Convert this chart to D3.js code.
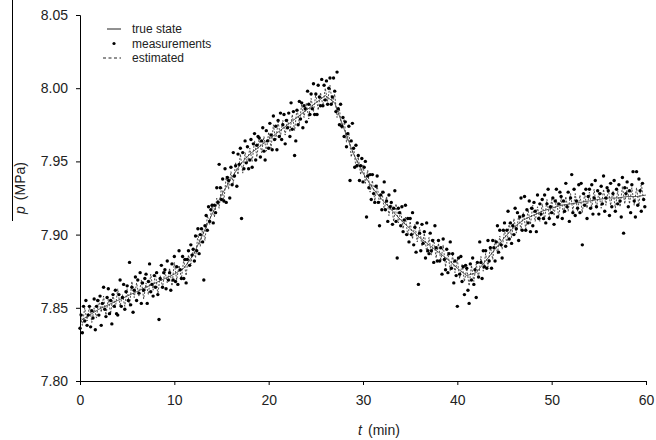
<!DOCTYPE html>
<html>
<head>
<meta charset="utf-8">
<script src="https://cdn.jsdelivr.net/npm/d3@7"></script>
<style>
  body { margin: 0; background: white; }
  svg { display: block; font-family: Arial, "Liberation Sans", sans-serif; }
  .tick text { fill: #222; font-size: 14px; }
  .legend-text { font-size: 12px; fill: #222; }
</style>
</head>
<body>
<svg width="656" height="440"></svg>
<script>
// true state, one value per minute (t = 0..60)
const trueTimes = d3.range(0, 61)
const trueState = [
  7.841, 7.845, 7.849, 7.852, 7.855, 7.858, 7.861, 7.864, 7.867, 7.870,
  7.873, 7.877, 7.886, 7.900, 7.914, 7.927, 7.938, 7.948, 7.955, 7.960,
  7.965, 7.970, 7.975, 7.980, 7.985, 7.990, 7.995, 7.990, 7.972, 7.955,
  7.942, 7.932, 7.924, 7.917, 7.910, 7.904, 7.898, 7.893, 7.888, 7.883,
  7.877, 7.872, 7.874, 7.882, 7.890, 7.898, 7.905, 7.910, 7.913, 7.916,
  7.918, 7.920, 7.921, 7.922, 7.923, 7.924, 7.925, 7.925, 7.926, 7.926,
  7.927
]

// measurements, sampled every 0.125 min (8 per row = 1 minute)
const measStep = 0.125
const measurements = [
  7.836, 7.845, 7.833, 7.851, 7.841, 7.855, 7.838, 7.845,
  7.851, 7.837, 7.848, 7.843, 7.856, 7.835, 7.851, 7.855,
  7.845, 7.858, 7.838, 7.853, 7.864, 7.849, 7.844, 7.857,
  7.863, 7.846, 7.855, 7.839, 7.859, 7.851, 7.862, 7.846,
  7.845, 7.859, 7.869, 7.851, 7.857, 7.866, 7.849, 7.861,
  7.865, 7.855, 7.881, 7.852, 7.864, 7.847, 7.862, 7.871,
  7.855, 7.869, 7.860, 7.874, 7.853, 7.867, 7.862, 7.870,
  7.873, 7.853, 7.868, 7.880, 7.861, 7.866, 7.858, 7.872,
  7.864, 7.874, 7.859, 7.842, 7.870, 7.879, 7.864, 7.874,
  7.876, 7.863, 7.882, 7.869, 7.874, 7.862, 7.880, 7.869,
  7.885, 7.868, 7.878, 7.866, 7.889, 7.876, 7.870, 7.885,
  7.870, 7.883, 7.867, 7.883, 7.889, 7.879, 7.893, 7.886,
  7.890, 7.882, 7.899, 7.889, 7.904, 7.887, 7.900, 7.904,
  7.895, 7.869, 7.906, 7.913, 7.903, 7.919, 7.909, 7.917,
  7.920, 7.908, 7.920, 7.915, 7.932, 7.922, 7.948, 7.932,
  7.924, 7.938, 7.923, 7.945, 7.922, 7.939, 7.937, 7.925,
  7.946, 7.934, 7.956, 7.940, 7.947, 7.933, 7.955, 7.948,
  7.959, 7.911, 7.956, 7.945, 7.964, 7.949, 7.960, 7.945,
  7.951, 7.965, 7.946, 7.962, 7.969, 7.951, 7.961, 7.967,
  7.966, 7.953, 7.964, 7.973, 7.957, 7.951, 7.971, 7.964,
  7.959, 7.976, 7.968, 7.958, 7.981, 7.965, 7.974, 7.958,
  7.978, 7.967, 7.983, 7.965, 7.975, 7.982, 7.962, 7.978,
  7.973, 7.983, 7.967, 7.990, 7.972, 7.984, 7.954, 7.964,
  7.985, 7.975, 7.991, 7.979, 7.990, 7.973, 7.988, 7.986,
  7.977, 7.998, 7.989, 7.982, 7.996, 7.986, 8.003, 7.982,
  7.996, 7.982, 8.002, 7.994, 7.988, 8.006, 7.988, 8.002,
  7.992, 8.005, 7.989, 8.000, 8.007, 7.989, 7.994, 8.007,
  7.998, 7.984, 8.011, 7.986, 7.975, 7.989, 7.974, 7.980,
  7.967, 7.977, 7.960, 7.969, 7.974, 7.937, 7.964, 7.976,
  7.959, 7.946, 7.961, 7.947, 7.954, 7.937, 7.947, 7.952,
  7.936, 7.946, 7.950, 7.912, 7.940, 7.932, 7.941, 7.924,
  7.941, 7.928, 7.922, 7.933, 7.940, 7.922, 7.906, 7.927,
  7.917, 7.929, 7.936, 7.917, 7.923, 7.909, 7.927, 7.919,
  7.922, 7.907, 7.918, 7.930, 7.909, 7.884, 7.918, 7.915,
  7.906, 7.919, 7.902, 7.910, 7.920, 7.900, 7.911, 7.895,
  7.911, 7.900, 7.915, 7.893, 7.905, 7.888, 7.908, 7.866,
  7.901, 7.889, 7.907, 7.894, 7.902, 7.884, 7.908, 7.889,
  7.887, 7.901, 7.889, 7.896, 7.881, 7.906, 7.891, 7.882,
  7.896, 7.882, 7.891, 7.873, 7.897, 7.883, 7.876, 7.890,
  7.874, 7.887, 7.895, 7.877, 7.887, 7.867, 7.882, 7.872,
  7.851, 7.884, 7.873, 7.885, 7.868, 7.878, 7.859, 7.879,
  7.877, 7.862, 7.853, 7.880, 7.869, 7.884, 7.866, 7.876,
  7.857, 7.881, 7.871, 7.895, 7.881, 7.870, 7.889, 7.878,
  7.889, 7.877, 7.896, 7.882, 7.891, 7.877, 7.896, 7.891,
  7.882, 7.895, 7.906, 7.888, 7.903, 7.893, 7.884, 7.903,
  7.908, 7.892, 7.903, 7.916, 7.897, 7.908, 7.894, 7.906,
  7.900, 7.918, 7.904, 7.915, 7.896, 7.912, 7.925, 7.903,
  7.913, 7.926, 7.903, 7.917, 7.908, 7.923, 7.902, 7.918,
  7.906, 7.922, 7.916, 7.902, 7.927, 7.911, 7.921, 7.914,
  7.924, 7.911, 7.927, 7.908, 7.921, 7.931, 7.911, 7.919,
  7.915, 7.925, 7.907, 7.923, 7.931, 7.912, 7.921, 7.929,
  7.926, 7.911, 7.923, 7.916, 7.935, 7.919, 7.929, 7.909,
  7.925, 7.941, 7.915, 7.931, 7.913, 7.923, 7.918, 7.934,
  7.915, 7.935, 7.893, 7.928, 7.920, 7.931, 7.911, 7.926,
  7.931, 7.918, 7.934, 7.914, 7.925, 7.937, 7.919, 7.930,
  7.914, 7.928, 7.933, 7.921, 7.940, 7.916, 7.925, 7.932,
  7.930, 7.913, 7.935, 7.919, 7.928, 7.937, 7.916, 7.931,
  7.921, 7.934, 7.923, 7.912, 7.939, 7.901, 7.932, 7.928,
  7.936, 7.919, 7.930, 7.915, 7.934, 7.943, 7.923, 7.912,
  7.943, 7.920, 7.938, 7.930, 7.916, 7.935, 7.924, 7.919
]

// filter estimate, every 0.25 min (4 per row)
const estStep = 0.25
const estimated = [
  7.846, 7.838, 7.850, 7.841,  7.851, 7.840, 7.850, 7.843,
  7.856, 7.847, 7.858, 7.845,  7.856, 7.846, 7.859, 7.850,
  7.863, 7.851, 7.859, 7.851,  7.863, 7.851, 7.868, 7.857,
  7.867, 7.858, 7.869, 7.856,  7.867, 7.859, 7.873, 7.862,
  7.874, 7.859, 7.872, 7.864,  7.875, 7.867, 7.877, 7.865,
  7.881, 7.869, 7.879, 7.870,  7.883, 7.872, 7.886, 7.880,
  7.891, 7.884, 7.900, 7.892,  7.904, 7.896, 7.913, 7.907,
  7.921, 7.912, 7.925, 7.918,  7.933, 7.923, 7.940, 7.931,
  7.943, 7.935, 7.949, 7.941,  7.955, 7.942, 7.956, 7.949,
  7.959, 7.950, 7.964, 7.953,  7.966, 7.956, 7.967, 7.957,
  7.970, 7.959, 7.975, 7.964,  7.977, 7.967, 7.978, 7.968,
  7.979, 7.970, 7.982, 7.971,  7.986, 7.976, 7.989, 7.980,
  7.990, 7.979, 7.993, 7.984,  7.996, 7.985, 7.997, 7.988,
  8.000, 7.991, 8.002, 7.989,  7.996, 7.980, 7.986, 7.972,
  7.979, 7.963, 7.970, 7.953,  7.960, 7.946, 7.953, 7.941,
  7.948, 7.935, 7.944, 7.929,  7.937, 7.923, 7.934, 7.921,
  7.930, 7.917, 7.926, 7.913,  7.922, 7.909, 7.921, 7.908,
  7.916, 7.904, 7.912, 7.899,  7.909, 7.897, 7.907, 7.895,
  7.905, 7.892, 7.901, 7.888,  7.898, 7.886, 7.897, 7.884,
  7.894, 7.882, 7.893, 7.878,  7.888, 7.875, 7.886, 7.874,
  7.883, 7.870, 7.880, 7.868,  7.877, 7.865, 7.879, 7.868,
  7.880, 7.871, 7.885, 7.875,  7.887, 7.878, 7.892, 7.883,
  7.897, 7.887, 7.899, 7.890,  7.903, 7.894, 7.908, 7.898,
  7.911, 7.901, 7.913, 7.903,  7.915, 7.904, 7.917, 7.907,
  7.920, 7.909, 7.919, 7.909,  7.921, 7.910, 7.924, 7.912,
  7.924, 7.913, 7.924, 7.912,  7.925, 7.914, 7.926, 7.916,
  7.928, 7.916, 7.928, 7.916,  7.927, 7.915, 7.928, 7.918,
  7.929, 7.918, 7.931, 7.918,  7.929, 7.918, 7.931, 7.920,
  7.931, 7.920, 7.930, 7.918,  7.930, 7.919, 7.933, 7.921,
  7.933, 7.921, 7.932, 7.920,  7.932, 7.920, 7.935, 7.923
]

const xTicks = [0, 10, 20, 30, 40, 50, 60]
const yTicks = [7.80, 7.85, 7.90, 7.95, 8.00, 8.05]
const legendItems = ['true state', 'measurements', 'estimated']

const svg = d3.select('svg')
const width = +svg.attr('width')
const height = +svg.attr('height')
const margin = {top: 15, right: 10, bottom: 59, left: 80}

const x = d3.scaleLinear().domain([0, 60]).range([margin.left, 646])
const y = d3.scaleLinear().domain([7.80, 8.05]).range([height - margin.bottom, margin.top])

const measData = measurements.map((v, i) => ({t: i * measStep, v}))
const estData = estimated.map((v, i) => ({t: i * estStep, v}))
const trueData = trueState.map((v, i) => ({t: trueTimes[i], v}))

const line = d3.line().x(d => x(d.t)).y(d => y(d.v))

// estimated (dashed zigzag)
svg.append('path')
  .datum(estData)
  .attr('fill', 'none')
  .attr('stroke', '#222')
  .attr('stroke-width', 0.8)
  .attr('stroke-dasharray', '2,1.5')
  .attr('d', line)

// true state
svg.append('path')
  .datum(trueData)
  .attr('fill', 'none')
  .attr('stroke', '#333')
  .attr('stroke-width', 0.8)
  .attr('d', line)

// measurements
svg.append('g')
  .selectAll('circle')
  .data(measData)
  .enter()
  .append('circle')
  .attr('cx', d => x(d.t))
  .attr('cy', d => y(d.v))
  .attr('r', 1.7)
  .attr('fill', '#000')

// axes
const xAxisG = svg.append('g')
  .attr('transform', `translate(0, ${y(7.80)})`)
  .call(d3.axisBottom(x).tickValues(xTicks).tickSize(4).tickPadding(10))
const yAxisG = svg.append('g')
  .attr('transform', `translate(${x(0)}, 0)`)
  .call(d3.axisLeft(y).tickValues(yTicks).tickFormat(d3.format('.2f')).tickSize(4).tickPadding(8))
svg.selectAll('.domain, .tick line').attr('stroke', '#000')
svg.selectAll('.tick text').attr('font-family', null)

// axis titles
const xTitle = svg.append('text')
  .attr('x', 379)
  .attr('y', 435)
  .attr('text-anchor', 'middle')
  .attr('font-size', 14)
  .attr('fill', '#222')
xTitle.append('tspan').attr('font-style', 'italic').text('t')
xTitle.append('tspan').attr('dx', 6).text('(min)')

const yTitle = svg.append('text')
  .attr('transform', 'translate(25, 188) rotate(-90)')
  .attr('text-anchor', 'middle')
  .attr('font-size', 14)
  .attr('fill', '#222')
yTitle.append('tspan').attr('font-style', 'italic').text('p')
yTitle.append('tspan').attr('dx', 6).text('(MPa)')

// overline of p, drawn long as in the original
svg.append('line')
  .attr('x1', 12.5).attr('x2', 12.5)
  .attr('y1', 0).attr('y2', 221)
  .attr('stroke', '#000')
  .attr('stroke-width', 1)

// legend
const legendG = svg.append('g').attr('transform', 'translate(103, 29)')
const rowH = 14.5
legendG.selectAll('text')
  .data(legendItems)
  .enter()
  .append('text')
  .attr('class', 'legend-text')
  .attr('x', 29)
  .attr('y', (d, i) => i * rowH + 4)
  .text(d => d)

legendG.append('line')
  .attr('x1', 4).attr('x2', 18).attr('y1', 0).attr('y2', 0)
  .attr('stroke', '#222').attr('stroke-width', 1)
legendG.append('circle')
  .attr('cx', 11).attr('cy', rowH).attr('r', 1.6).attr('fill', '#000')
legendG.append('line')
  .attr('x1', 0).attr('x2', 18).attr('y1', rowH * 2).attr('y2', rowH * 2)
  .attr('stroke', '#222').attr('stroke-width', 1)
  .attr('stroke-dasharray', '3,2.5')
</script>
</body>
</html>
